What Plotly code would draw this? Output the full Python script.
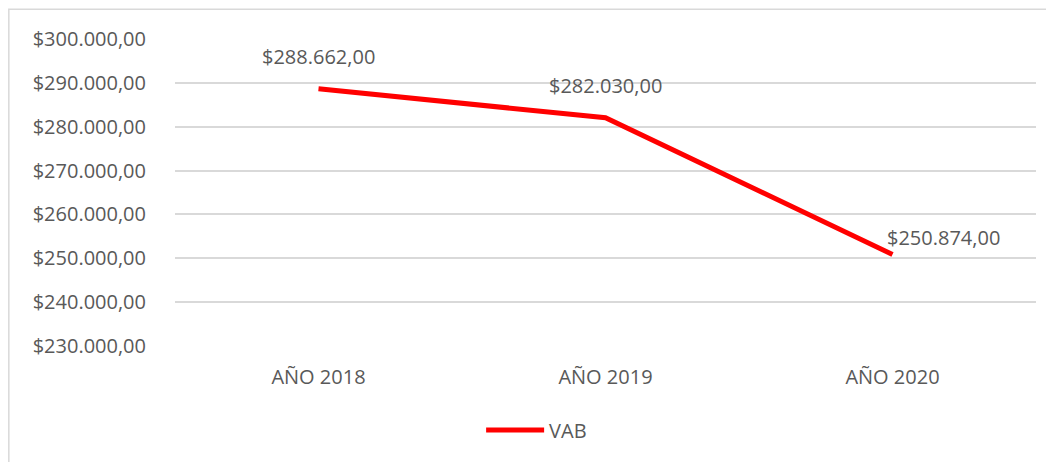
import plotly.graph_objects as go

categories = ["AÑO 2018", "AÑO 2019", "AÑO 2020"]
vab = [288662, 282030, 250874]
labels = ["$288.662,00", "$282.030,00", "$250.874,00"]
tick_vals = [230000, 240000, 250000, 260000, 270000, 280000, 290000, 300000]
tick_text = ["$230.000,00", "$240.000,00", "$250.000,00", "$260.000,00",
             "$270.000,00", "$280.000,00", "$290.000,00", "$300.000,00"]

FONT = "Open Sans"
GRAY = "#595959"
FS = 20

fig = go.Figure()
fig.add_trace(go.Scatter(
    x=categories, y=vab, mode="lines", name="VAB",
    line=dict(color="#FF0000", width=5),
))

shifts = [(0, 32), (0, 32), (51, 17)]
for c, v, t, (xs, ys) in zip(categories, vab, labels, shifts):
    fig.add_annotation(x=c, y=v, text=t, showarrow=False, xshift=xs, yshift=ys,
                       font=dict(family=FONT, size=FS, color=GRAY))

fig.update_layout(
    width=1054, height=462,
    margin=dict(l=167, r=26, t=31, b=124, autoexpand=False),
    paper_bgcolor="white", plot_bgcolor="white",
    font=dict(family=FONT, size=FS, color=GRAY),
    showlegend=True,
    legend=dict(orientation="h", x=0.42, xanchor="center", y=-0.21, yanchor="top",
                itemwidth=58,
                font=dict(family=FONT, size=FS, color=GRAY)),
    xaxis=dict(range=[-0.5, 2.5], showgrid=False, showline=False, ticks="",
               automargin=False, ticklabelstandoff=17,
               tickfont=dict(size=FS, color=GRAY)),
    yaxis=dict(range=[230000, 300000], tickvals=tick_vals, ticktext=tick_text,
               showgrid=True, gridcolor="#D9D9D9", gridwidth=1.5, zeroline=False,
               showline=False, ticks="", ticklabelstandoff=28, automargin=False,
               tickfont=dict(size=FS, color=GRAY)),
    shapes=[dict(type="rect", xref="paper", yref="paper", x0=-0.193, x1=1.2, y0=-0.5, y1=1.097,
                 line=dict(color="#D9D9D9", width=1.5), fillcolor="rgba(0,0,0,0)", layer="below")],
)

fig.write_html("out.html")
